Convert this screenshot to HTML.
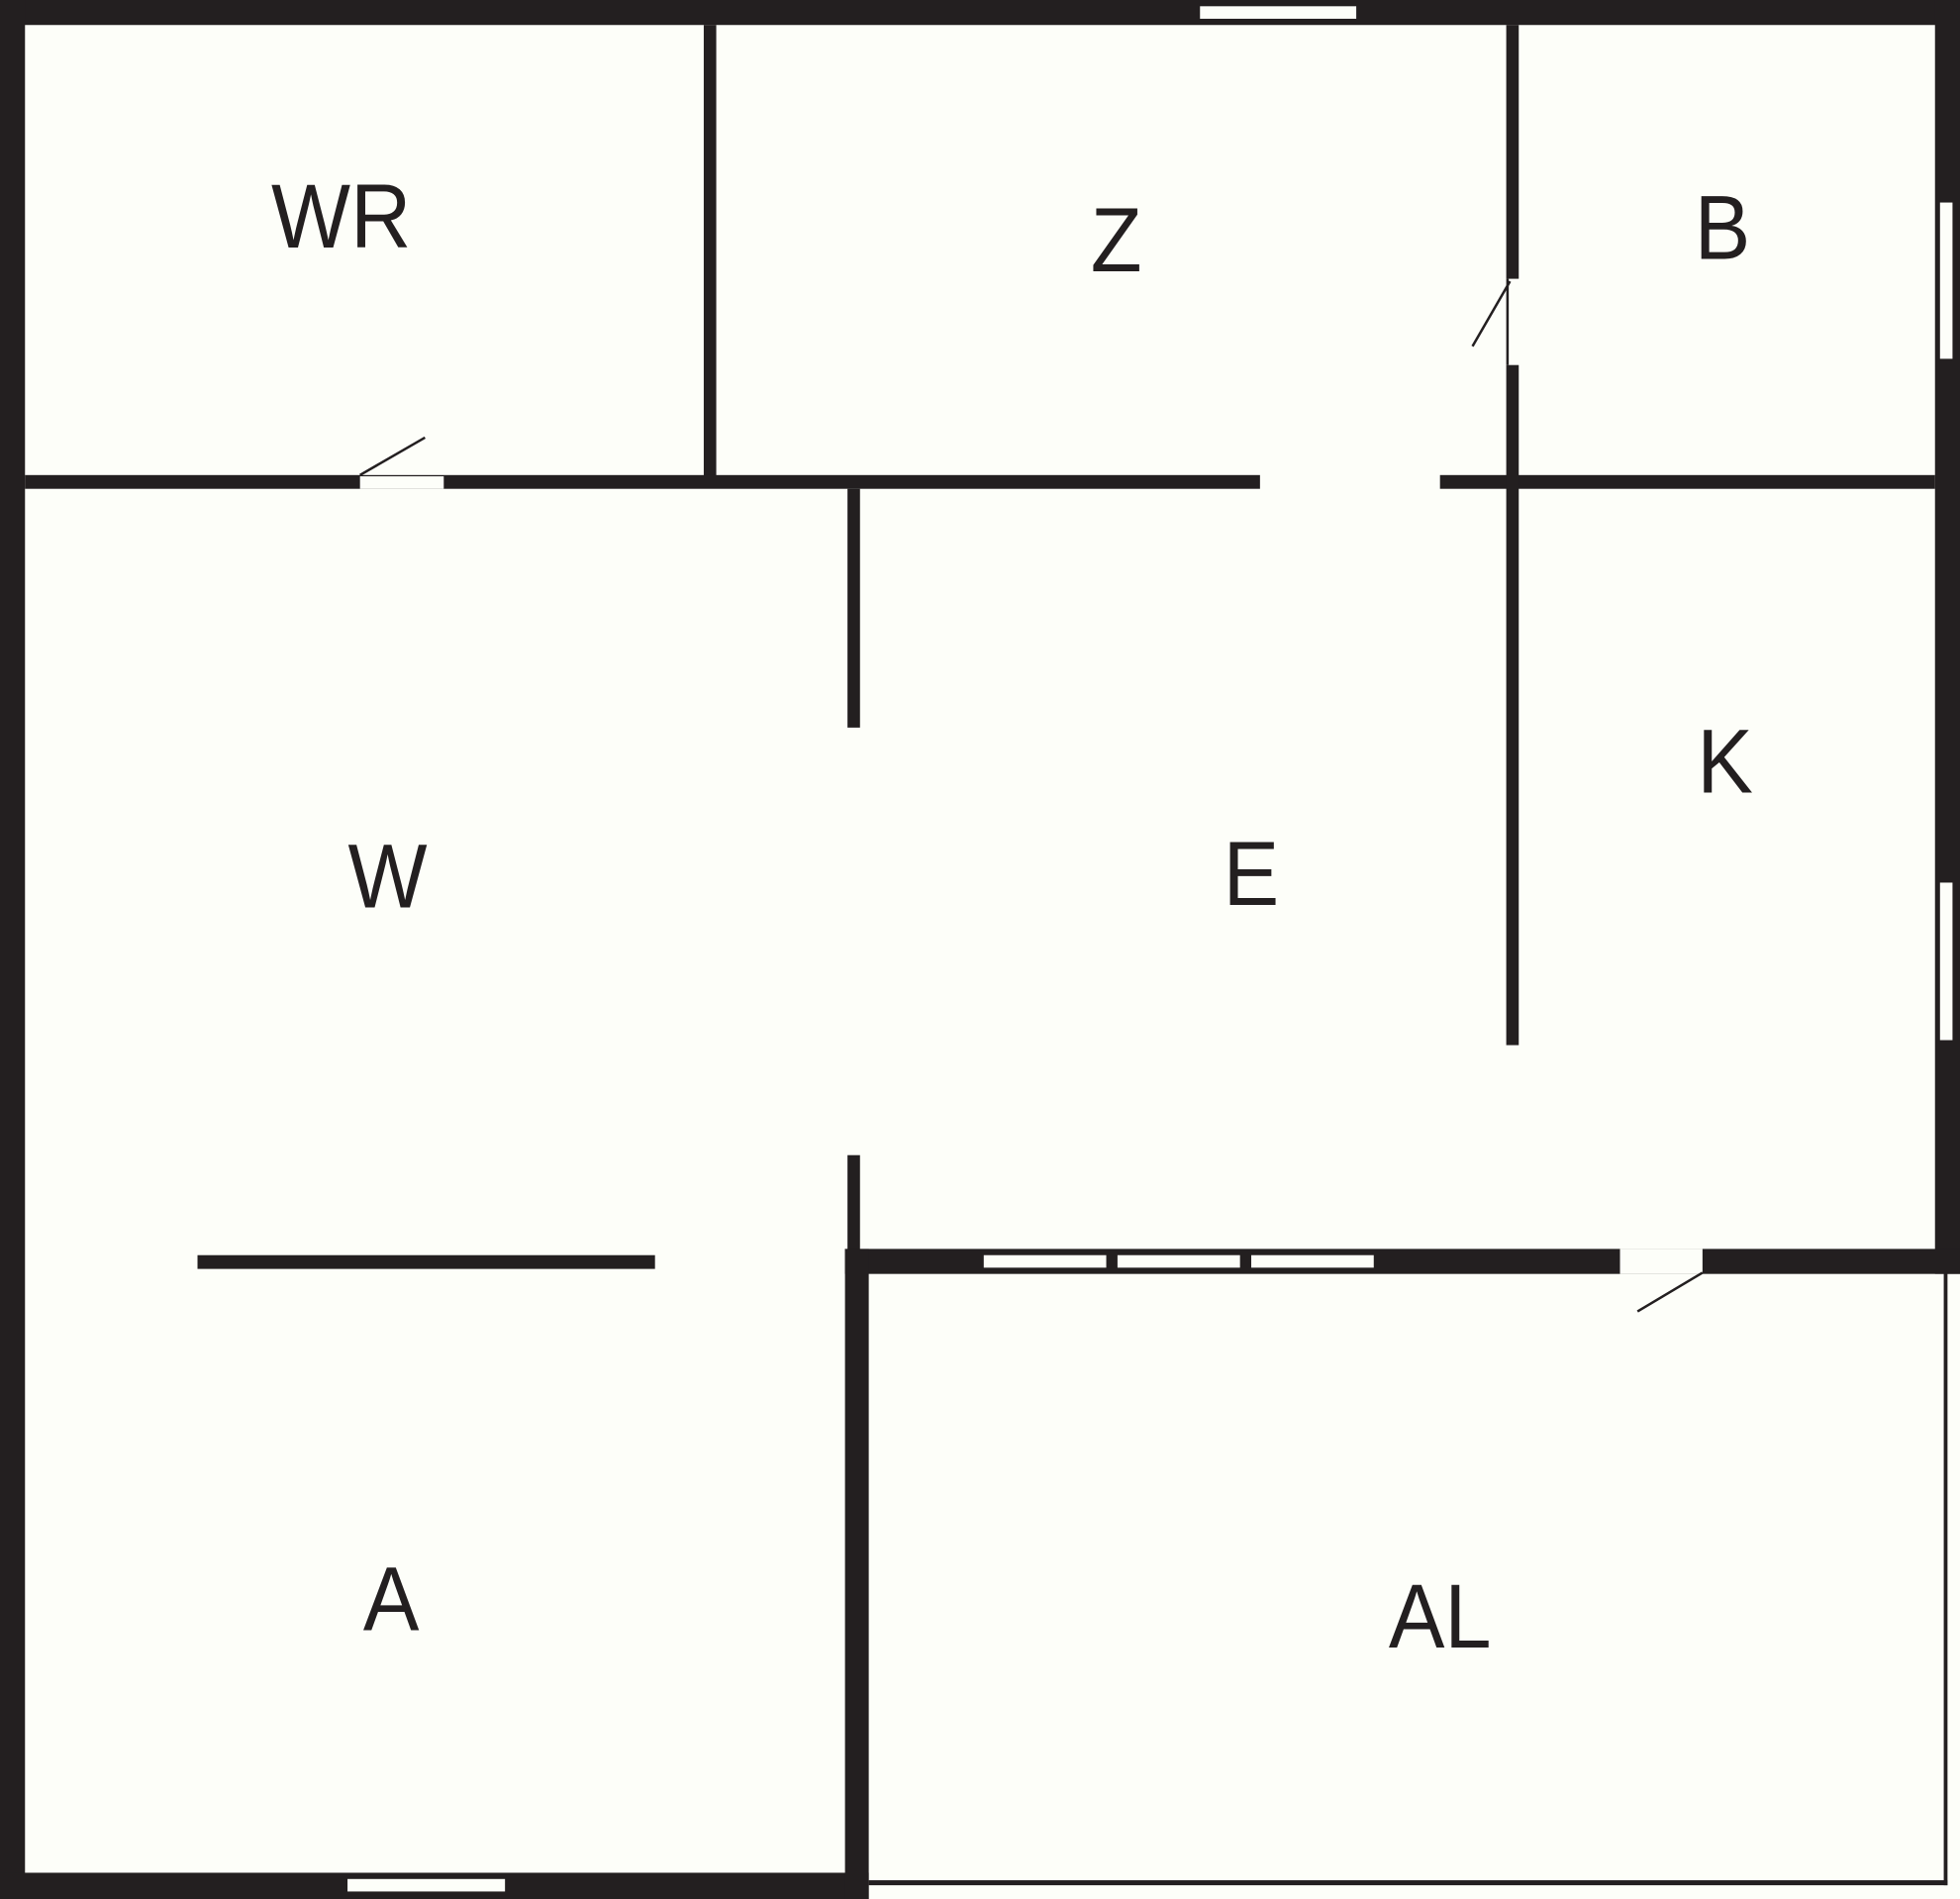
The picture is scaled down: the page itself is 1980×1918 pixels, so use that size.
<!DOCTYPE html>
<html><head><meta charset="utf-8"><style>
html,body{margin:0;padding:0;background:#fdfef9;}
svg{display:block;}
text{font-family:"Liberation Sans",sans-serif;font-size:73px;fill:#231f20;text-anchor:middle;}
</style></head><body>
<svg width="1980" height="1918" viewBox="0 0 1568 1519" preserveAspectRatio="none" xmlns="http://www.w3.org/2000/svg">
<rect x="0" y="0" width="1568" height="1519" fill="#fdfef9"/>
<g fill="#231f20">
<rect x="0" y="0" width="1568" height="20"/>
<rect x="0" y="0" width="20" height="1519"/>
<rect x="1548" y="0" width="20" height="1019"/>
<rect x="0" y="1498" width="695" height="21"/>
<rect x="695" y="1504" width="863" height="4"/>
<rect x="1555" y="1018" width="3" height="490"/>
<rect x="563" y="20" width="10" height="365"/>
<rect x="20" y="380" width="988" height="11"/>
<rect x="1152" y="380" width="396" height="11"/>
<rect x="1205" y="20" width="10" height="203"/>
<rect x="1205" y="292" width="10" height="544"/>
<rect x="1205" y="223" width="2" height="69"/>
<rect x="678" y="391" width="10" height="191"/>
<rect x="678" y="924" width="10" height="76"/>
<rect x="676" y="999" width="892" height="20"/>
<rect x="676" y="999" width="19" height="520"/>
<rect x="158" y="1004" width="366" height="11"/>
</g>
<g fill="#fdfef9">
<rect x="960" y="5" width="125" height="10"/>
<rect x="288" y="381" width="67" height="10"/>
<rect x="1552" y="162" width="10" height="125"/>
<rect x="1552" y="706" width="10" height="126"/>
<rect x="787" y="1004" width="98" height="10"/>
<rect x="894" y="1004" width="98" height="10"/>
<rect x="1001" y="1004" width="98" height="10"/>
<rect x="1296" y="999" width="66" height="20"/>
<rect x="278" y="1503" width="126" height="10"/>
</g>
<g stroke="#231f20" stroke-width="2">
<line x1="288" y1="380" x2="340" y2="350"/>
<line x1="1208" y1="225" x2="1178" y2="277"/>
<line x1="1362" y1="1018" x2="1310" y2="1049"/>
</g>
<g transform="scale(0.92,1)">
<text x="296.7" y="198">WR</text>
<text x="970.7" y="217">Z</text>
<text x="1497.8" y="207">B</text>
<text x="1500" y="634">K</text>
<text x="1088" y="724">E</text>
<text x="337" y="726">W</text>
<text x="340.2" y="1304">A</text>
<text x="1252.2" y="1318">AL</text>
</g>
</svg>
</body></html>
